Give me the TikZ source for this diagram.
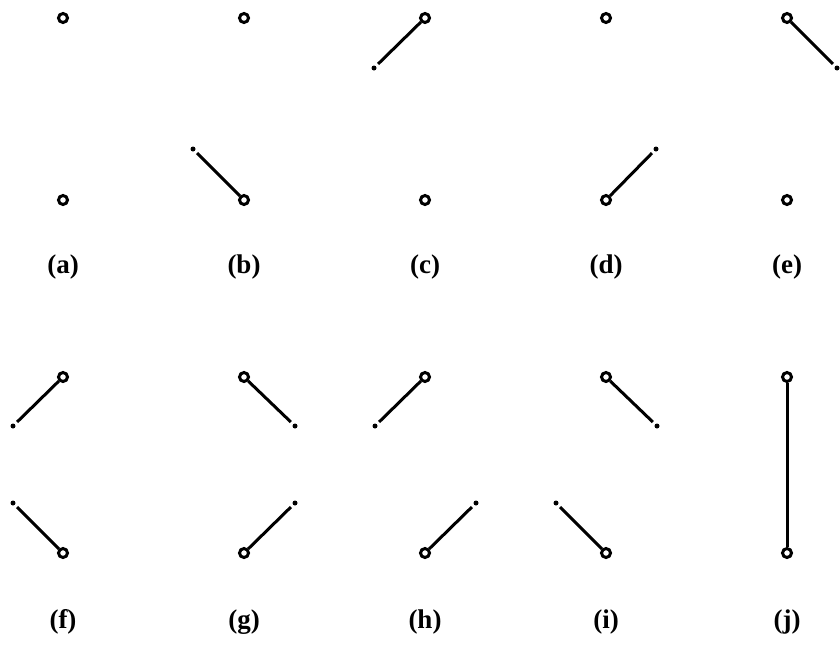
\documentclass[tikz,border=0pt]{standalone}
\usepackage{fontspec}
\setmainfont{Liberation Serif}
\begin{document}
\begin{tikzpicture}[
    x=1pt, y=-1pt,
    every node/.style={font=\fontsize{27}{31}\selectfont\bfseries},
    % open end of a connection
    vertex/.style={circle, draw, line width=3pt, inner sep=0pt, minimum size=9pt},
    % loose end of a stub
    tip/.style={circle, fill, inner sep=0pt, minimum size=5pt},
    stub/.style={line width=3pt, shorten >=3pt}
]
\useasboundingbox (0,0) rectangle (840,651);

% Vertices and labels, upper row
\foreach \n/\x in {a/63, b/244, c/425, d/606, e/787} {
    \node[vertex] (\n-t) at (\x, 18) {};
    \node[vertex] (\n-b) at (\x, 200) {};
    \node (\n-lbl) at (\x, 267) {(\n)};
}

% Vertices and labels, lower row
\foreach \n/\x in {f/63, g/244, h/425, i/606, j/787} {
    \node[vertex] (\n-t) at (\x, 377) {};
    \node[vertex] (\n-b) at (\x, 553) {};
    \node (\n-lbl) at (\x, 622) {(\n)};
}

% Stub ends
\node[tip] (b-bt) at (193, 149) {};
\node[tip] (c-tt) at (374, 68) {};
\node[tip] (d-bt) at (656, 149) {};
\node[tip] (e-tt) at (837, 68) {};
\node[tip] (f-tt) at (13, 426) {};
\node[tip] (f-bt) at (13, 503) {};
\node[tip] (g-tt) at (295, 426) {};
\node[tip] (g-bt) at (295, 503) {};
\node[tip] (h-tt) at (375, 426) {};
\node[tip] (h-bt) at (476, 503) {};
\node[tip] (i-tt) at (657, 426) {};
\node[tip] (i-bt) at (556, 503) {};

% Stubs
\draw[stub] (b-b) -- (b-bt);
\draw[stub] (c-t) -- (c-tt);
\draw[stub] (d-b) -- (d-bt);
\draw[stub] (e-t) -- (e-tt);
\foreach \n in {f, g, h, i} {
    \draw[stub] (\n-t) -- (\n-tt);
    \draw[stub] (\n-b) -- (\n-bt);
}

% Full connection
\draw[line width=3pt] (j-t) -- (j-b);

\end{tikzpicture}
\end{document}
